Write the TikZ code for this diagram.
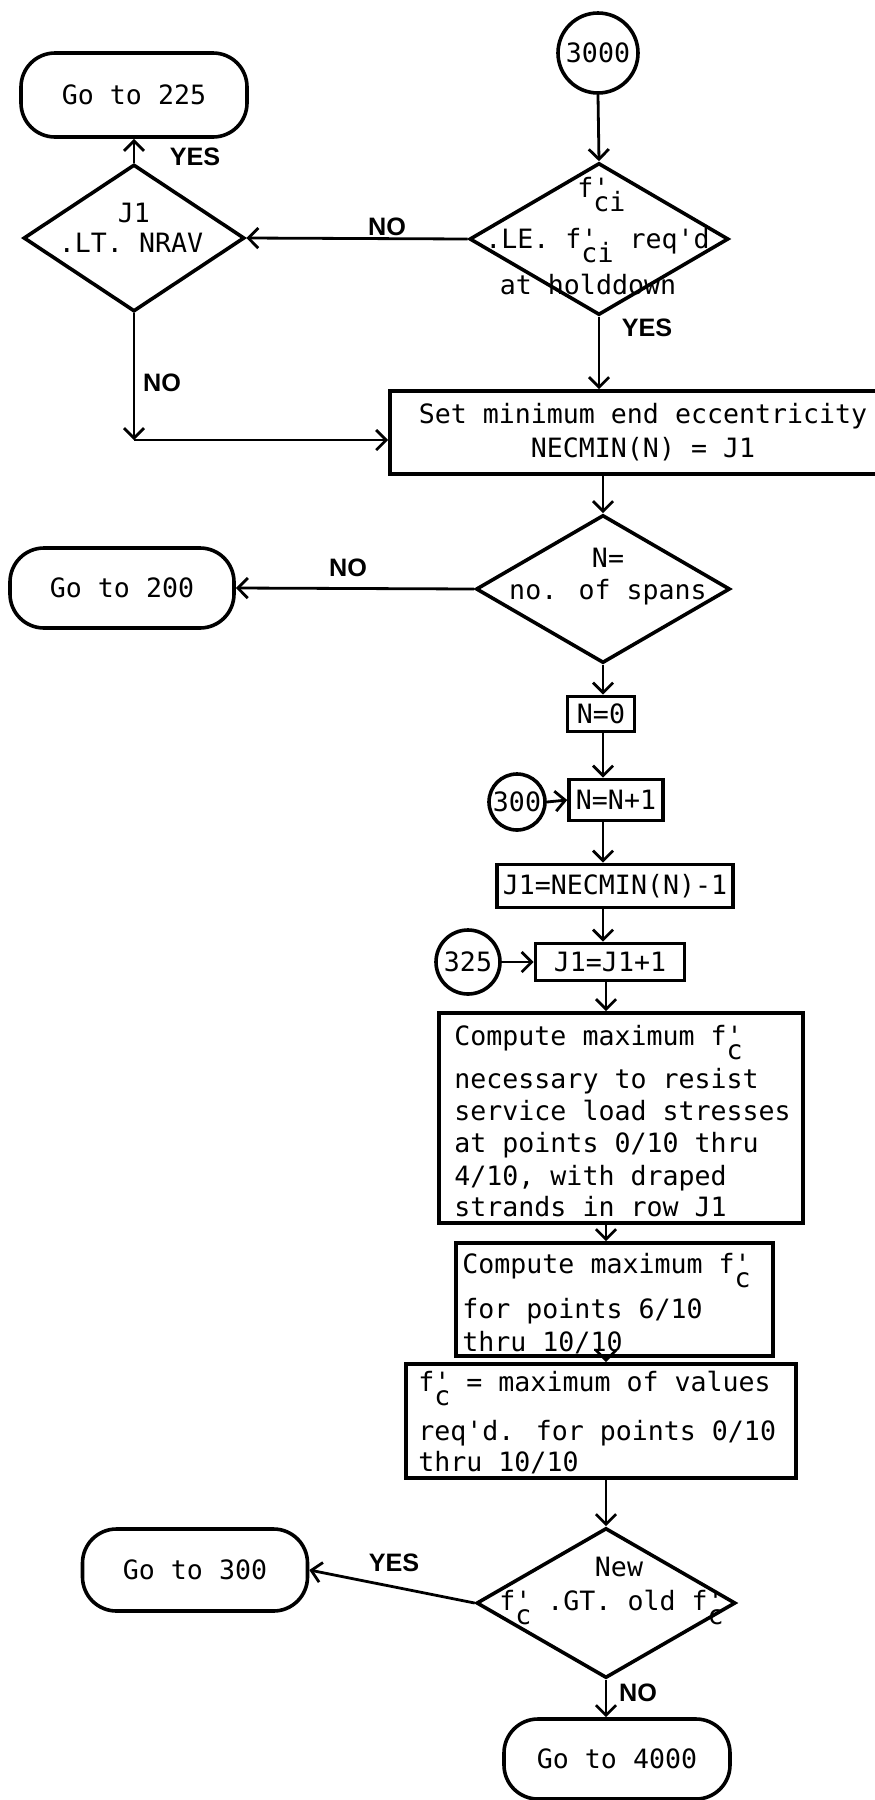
\documentclass[tikz,border=0pt]{standalone}
\usepackage{fontspec}
\newfontfamily\mono{DejaVu Sans Mono}[Ligatures=TeXOff]
\newfontfamily\lbl{Liberation Sans}
\usetikzlibrary{shapes.geometric,arrows.meta}
\newcommand\fsub[1]{f\rlap{'}\raisebox{-7pt}{#1}}
\tikzset{
  shp/.style={draw, line width=1.8pt, inner sep=0pt},
  term/.style={shp, rectangle, rounded corners=17pt},
  box/.style={shp, rectangle},
  conn/.style={shp, circle},
  dia/.style={shp, diamond},
  txt/.style={inner sep=0pt},
  lab/.style={inner sep=0pt, font=\lbl\bfseries\fontsize{12.6pt}{14pt}\selectfont},
  arr/.style={line width=1.4pt, ->},
}
\begin{document}
\begin{tikzpicture}[x=0.5pt,y=-0.5pt,
  font=\mono\fontsize{13.3pt}{17pt}\selectfont,
  >={Straight Barb[length=5pt,width=10pt]}]
\useasboundingbox (0,0) rectangle (874,1800);
\fill[white] (0,0) rectangle (874,1800);

% shapes
\node[term, minimum width=113pt, minimum height=42pt] (g225) at (134,95) {Go to 225};
\node[conn, minimum size=40pt] (c3000) at (598,53) {3000};
\node[dia, minimum width=110.5pt, minimum height=73.5pt] (d1) at (134,238) {};
\node[dia, minimum width=129.5pt, minimum height=76pt] (d2) at (599,239) {};
\node[box, minimum width=253pt, minimum height=41.5pt, align=center] (setb) at (643,432.5)
  {Set minimum end eccentricity\\NECMIN(N) = J1};
\node[dia, minimum width=127pt, minimum height=74pt] (d3) at (603,589) {};
\node[term, minimum width=112pt, minimum height=40pt] (g200) at (122,588) {Go to 200};
\node[box, minimum width=33.5pt, minimum height=17.5pt] (n0) at (601,714) {N=0};
\node[box, minimum width=47pt, minimum height=20.5pt] (nn1) at (616,800) {N=N+1};
\node[conn, minimum size=28pt] (c300) at (517,802) {300};
\node[box, minimum width=118pt, minimum height=21.5pt] (j1n) at (615,886) {J1=NECMIN(N)-1};
\node[conn, minimum size=32pt] (c325) at (468,962) {325};
\node[box, minimum width=74.5pt, minimum height=18.5pt] (j1p) at (610,962) {J1=J1+1};
\node[box, minimum width=182pt, minimum height=105pt] (cmp1) at (621,1118) {};
\node[box, minimum width=158.5pt, minimum height=56.5pt] (cmp2) at (614.5,1299.5) {};
\node[box, minimum width=195pt, minimum height=57pt] (fcb) at (601,1421) {};
\node[dia, minimum width=129.5pt, minimum height=75pt] (d4) at (606,1603) {};
\node[term, minimum width=112.5pt, minimum height=41pt] (g300) at (195,1570) {Go to 300};
\node[term, minimum width=113pt, minimum height=40pt] (g4000) at (617,1759) {Go to 4000};

% diamond texts
\node[txt] (t1a) at (134,213) {J1};
\node[txt] (t1b) at (131,243) {.LT. NRAV};
\node[txt, anchor=base west] (t2a) at (577,197) {\fsub{ci}};
\node[txt, anchor=base west] (t2b) at (485,248) {.LE. \fsub{ci} req'd};
\node[txt] (t2c) at (588,285) {at holddown};
\node[txt] (t3a) at (608,558) {N=};
\node[txt] (t3b) at (608,592) {no. of spans};
\node[txt] (t4a) at (619,1567) {New};
\node[txt, anchor=base west] (t4b) at (499,1610) {\fsub{c} .GT. old \fsub{c}};

% box texts
\node[txt, anchor=base west] (c1a) at (454,1045) {Compute maximum \fsub{c}};
\node[txt, anchor=base west] (c1b) at (454,1088) {necessary to resist};
\node[txt, anchor=base west] (c1c) at (454,1120) {service load stresses};
\node[txt, anchor=base west] (c1d) at (454,1152) {at points 0/10 thru};
\node[txt, anchor=base west] (c1e) at (454,1185) {4/10, with draped};
\node[txt, anchor=base west] (c1f) at (454,1216) {strands in row J1};
\node[txt, anchor=base west] (c2a) at (462,1273) {Compute maximum \fsub{c}};
\node[txt, anchor=base west] (c2b) at (462,1318) {for points 6/10};
\node[txt, anchor=base west] (c2c) at (462,1351) {thru 10/10};
\node[txt, anchor=base west] (f3a) at (418,1391) {\fsub{c} = maximum of values};
\node[txt, anchor=base west] (f3b) at (418,1440) {req'd. for points 0/10};
\node[txt, anchor=base west] (f3c) at (418,1471) {thru 10/10};

% labels
\node[lab] (y1) at (195,157) {YES};
\node[lab] (n1) at (387,227) {NO};
\node[lab] (n2) at (162,383) {NO};
\node[lab] (y2) at (647,328) {YES};
\node[lab] (n3) at (348,568) {NO};
\node[lab] (y3) at (394,1563) {YES};
\node[lab] (n4) at (638,1693) {NO};

% connectors
\coordinate (k1) at (134,440);
\coordinate (col) at (603,0);
\coordinate (col2) at (606,0);
\draw[arr] (c3000.south) -- (d2.north);
\draw[arr] (d2.west) -- (d1.east);
\draw[arr] (d1.north) -- (g225.south);
\draw[arr] (d2.south) -- (d2.south |- setb.north);
\draw[arr] (d1.south) -- (k1);
\draw[arr] (k1) -- (k1 -| setb.west);
\draw[arr] (d3.north |- setb.south) -- (d3.north);
\draw[arr] (d3.west) -- (g200.east);
\draw[arr] (d3.south) -- (d3.south |- n0.north);
\draw[arr] (col |- n0.south) -- (col |- nn1.north);
\draw[arr] (c300.east) -- (nn1.west);
\draw[arr] (col |- nn1.south) -- (col |- j1n.north);
\draw[arr] (col |- j1n.south) -- (col |- j1p.north);
\draw[arr] (c325.east) -- (j1p.west);
\draw[arr] (col2 |- j1p.south) -- (col2 |- cmp1.north);
\draw[arr] (col2 |- cmp1.south) -- (col2 |- cmp2.north);
\draw[arr] (col2 |- cmp2.south) -- (col2 |- fcb.north);
\draw[arr] (col2 |- fcb.south) -- (d4.north);
\draw[arr] (d4.west) -- (g300.east);
\draw[arr] (d4.south) -- (d4.south |- g4000.north);
\end{tikzpicture}
\end{document}
